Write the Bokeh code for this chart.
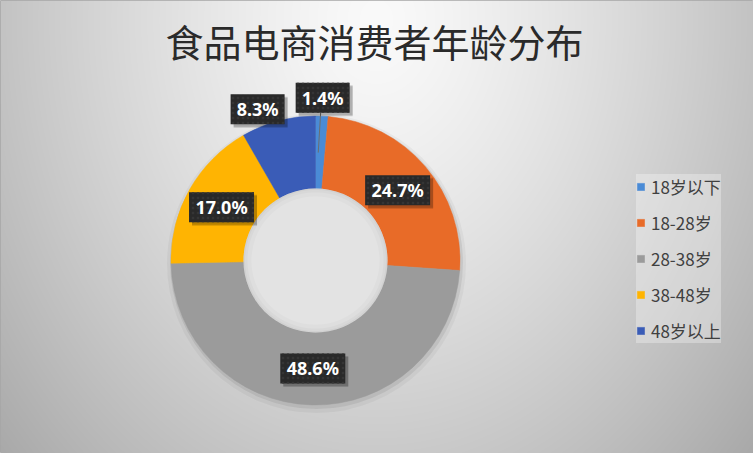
import numpy as np
from bokeh.plotting import figure
from bokeh.models import ColumnDataSource, Range1d
from bokeh.core.properties import value
from bokeh.embed import file_html
from bokeh.resources import INLINE

# ---------------- data ----------------
title = "食品电商消费者年龄分布"
categories = ["18岁以下", "18-28岁", "28-38岁", "38-48岁", "48岁以上"]
shares = [1.4, 24.7, 48.6, 17.0, 8.3]
colors = ["#4A8BD6", "#E86B28", "#9B9B9B", "#FFB402", "#3A5CB7"]

# ---------------- layout (reference pixel coordinates) ----------------
REF_W, REF_H = 753, 453
CX, CY = 315, 260            # donut centre (ref px)
R_OUT, R_IN = 144.5, 72
label_r = [163, 108, 108, 108, 162]
label_nudge_deg = [0, 0, 0, 0, -6]
leader = [True, False, False, False, False]

def fy(y):
    return REF_H - y

p = figure(width=REF_W, height=REF_H, output_backend="svg", toolbar_location=None,
           x_range=Range1d(0, REF_W), y_range=Range1d(0, REF_H),
           x_axis_type=None, y_axis_type=None, min_border=0)
p.grid.visible = False
p.outline_line_color = "#a6a6a6"
p.background_fill_color = "#d8d8d8"
p.border_fill_color = "#d8d8d8"

# background radial gradient
H, W = REF_H, REF_W
xs = np.arange(W) + 0.5
ys = REF_H - (np.arange(H) + 0.5)
dx = (xs[None, :] - 376) / 376
dy = (ys[:, None] - 20) / 480
rr = np.sqrt(dx ** 2 + dy ** 2)
v = np.clip(250 - 55 * rr ** 1.3, 0, 255).astype(np.uint8)
img = np.empty((H, W), dtype=np.uint32)
view = img.view(dtype=np.uint8).reshape((H, W, 4))
view[:, :, 0] = v
view[:, :, 1] = v
view[:, :, 2] = v
view[:, :, 3] = 255
p.image_rgba(image=[img], x=0, y=0, dw=W, dh=H)

# soft shadow under donut
p.circle(x=CX + 1, y=fy(CY) - 3, radius=R_OUT + 5, fill_color="black", fill_alpha=0.04, line_color=None)
p.circle(x=CX + 1, y=fy(CY) - 2, radius=R_OUT + 2, fill_color="black", fill_alpha=0.07, line_color=None)

# wedges
vals = np.array(shares, dtype=float)
frac = vals / vals.sum()
cum = np.concatenate([[0], np.cumsum(frac)])
start = np.pi / 2 - cum[:-1] * 2 * np.pi
end = np.pi / 2 - cum[1:] * 2 * np.pi
src = ColumnDataSource(dict(cat=categories, start=start, end=end, color=colors))
p.annular_wedge(x=CX, y=fy(CY), inner_radius=R_IN, outer_radius=R_OUT,
                start_angle="start", end_angle="end", direction="clock",
                fill_color="color", line_color="color", line_width=0.5,
                legend_field="cat", source=src)

# hole shading
p.circle(x=CX, y=fy(CY), radius=R_IN, fill_color="#e3e3e3", line_color=None)
for ri, a in [(R_IN - 8, 0.02), (R_IN - 4, 0.025), (R_IN - 1.5, 0.03)]:
    p.annulus(x=CX, y=fy(CY), inner_radius=ri, outer_radius=R_IN,
              fill_color="black", fill_alpha=a, line_color=None)

# data labels
mid = (cum[:-1] + cum[1:]) / 2 * 2 * np.pi + np.radians(label_nudge_deg)
lr = np.array(label_r, dtype=float)
lx = CX + lr * np.sin(mid)
ly = fy(CY) + lr * np.cos(mid)
texts = [f"{s:.1f}%" for s in shares]
bw = [11 * len(t) + 10 for t in texts]

# leader lines
lead_idx = [i for i, f in enumerate(leader) if f]
if lead_idx:
    x0 = [lx[i] - 2 for i in lead_idx]
    y0 = [ly[i] - 15 for i in lead_idx]
    x1 = [CX + 108 * np.sin(mid[i]) - 2 for i in lead_idx]
    y1 = [fy(CY) + 108 * np.cos(mid[i]) for i in lead_idx]
    p.segment(x0=x0, y0=y0, x1=x1, y1=y1, line_color="#6e6e6e", line_width=1)

lsrc = ColumnDataSource(dict(x=lx, y=ly, sx=lx + 3, sy=ly - 3, w=bw, t=texts))
p.rect(x="sx", y="sy", width="w", height=31, width_units="screen", height_units="screen",
       fill_color="black", fill_alpha=0.16, line_color=None, source=lsrc)
p.rect(x="sx", y="sy", width="w", height=29, width_units="screen", height_units="screen",
       fill_color="black", fill_alpha=0.14, line_color=None, source=lsrc)
p.rect(x="x", y="y", width="w", height=30, width_units="screen", height_units="screen",
       fill_color="#292929", line_color=None, hatch_pattern="dot", hatch_color="#353535",
       hatch_scale=5, hatch_weight=1.5, source=lsrc)
p.text(x="x", y="y", text="t", text_color="white", text_font=value("Noto Sans"),
       text_font_style="bold", text_font_size="18px", text_align="center",
       text_baseline="middle", source=lsrc)

# title
p.text(x=[374], y=[fy(40)], text=[title], text_color="#2a2a2a",
       text_font=value("Noto Sans CJK SC"), text_font_size="38px",
       text_align="center", text_baseline="middle")

# legend
lg = p.legend[0]
lg.location = (636, 110)
lg.margin = 0
lg.padding = 9
lg.label_height = 14
lg.glyph_height = 9
lg.glyph_width = 9
lg.label_standoff = 6
lg.spacing = 11
lg.label_width = 69
lg.label_text_font = "Noto Sans CJK SC"
lg.label_text_font_size = "17px"
lg.label_text_color = "#404040"
lg.background_fill_color = "white"
lg.background_fill_alpha = 0.3
lg.border_line_color = None

open("out.html", "w").write(file_html(p, INLINE))
